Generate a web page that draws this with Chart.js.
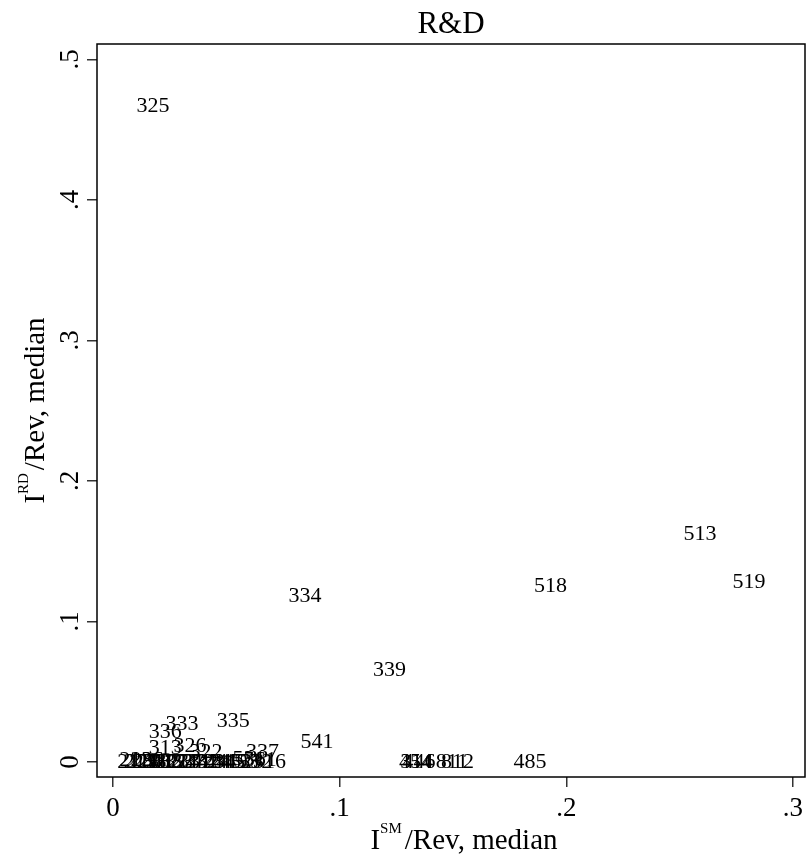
<!DOCTYPE html>
<html>
<head>
<meta charset="utf-8">
<title>R&amp;D</title>
<script src="https://cdn.jsdelivr.net/npm/chart.js@4.4.1/dist/chart.umd.min.js"></script>
<style>
  html, body { margin: 0; padding: 0; background: #fff; }
  #wrap { width: 811px; height: 856px; }
</style>
</head>
<body>
<div id="wrap"><canvas id="chartRD" width="811" height="856"></canvas></div>
<script>
// industry codes and their medians
const codes = [
    "325", "513", "519", "518", "334", "339", "541", "335", "333", "336",
    "326", "313", "322", "337", "485", "454", "314", "446", "811", "812",
    "316", "211", "212", "213", "221", "236", "237", "238", "311", "312",
    "315", "321", "323", "324", "327", "331", "332", "423", "424", "441",
    "445", "452", "493", "531", "532", "561"
];
const smRev = [
    0.0176, 0.259, 0.2806, 0.193, 0.0847, 0.122, 0.090, 0.053, 0.0304, 0.023,
    0.034, 0.023, 0.041, 0.066, 0.184, 0.1335, 0.1340, 0.1350, 0.1495, 0.1520,
    0.069, 0.009, 0.010, 0.012, 0.013, 0.015, 0.016, 0.018, 0.020, 0.022,
    0.024, 0.026, 0.028, 0.030, 0.033, 0.036, 0.039, 0.042, 0.045, 0.048,
    0.051, 0.054, 0.057, 0.060, 0.063, 0.065
];
const rdRev = [
    0.467, 0.162, 0.128, 0.125, 0.118, 0.0655, 0.0142, 0.029, 0.027, 0.021,
    0.011, 0.010, 0.007, 0.007, 0, 0, 0, 0, 0, 0,
    0, 0, 0.001, 0, 0, 0.001, 0, 0, 0, 0,
    0, 0, 0, 0, 0, 0, 0, 0, 0, 0,
    0, 0, 0, 0.002, 0, 0.001
];
const xTicks = [0, 0.1, 0.2, 0.3];
const yTicks = [0, 0.1, 0.2, 0.3, 0.4, 0.5];

const SERIF = "'Liberation Serif', 'DejaVu Serif', serif";

function fmtTick(v) {
    if (Math.abs(v) < 1e-9) return "0";
    return String(Math.round(v * 10) / 10).replace(/^0/, "");
}

// codes written at each point instead of markers
const pointLabels = {
    id: "pointLabels",
    afterDatasetsDraw(chart) {
        const ctx = chart.ctx;
        const meta = chart.getDatasetMeta(0);
        ctx.save();
        ctx.font = "22px " + SERIF;
        ctx.fillStyle = "#000";
        ctx.textAlign = "center";
        ctx.textBaseline = "middle";
        meta.data.forEach((pt, i) => {
            ctx.fillText(codes[i], pt.x, pt.y);
        });
        ctx.restore();
    }
};

// plot frame, title and axis titles with superscripts
const frameTitles = {
    id: "frameTitles",
    afterDraw(chart) {
        const ctx = chart.ctx;
        const a = chart.chartArea;
        ctx.save();
        ctx.strokeStyle = "#000";
        ctx.lineWidth = 1.5;
        ctx.strokeRect(a.left, a.top, a.right - a.left, a.bottom - a.top);

        ctx.fillStyle = "#000";
        ctx.textBaseline = "alphabetic";
        ctx.textAlign = "center";
        ctx.font = "31px " + SERIF;
        ctx.fillText("R&D", (a.left + a.right) / 2, 33);

        function axisTitle(sup, x, y, rot) {
            ctx.save();
            ctx.translate(x, y);
            ctx.rotate(rot);
            ctx.textAlign = "left";
            const big = "29px " + SERIF, small = "15px " + SERIF;
            ctx.font = big;
            const wI = ctx.measureText("I").width;
            const rest = "/Rev, median";
            const wR = ctx.measureText(rest).width;
            ctx.font = small;
            const wS = ctx.measureText(sup).width;
            const total = wI + wS + wR + 3;
            let cx = -total / 2;
            ctx.font = big;
            ctx.fillText("I", cx, 0);
            cx += wI;
            ctx.font = small;
            ctx.fillText(sup, cx, -16);
            cx += wS + 3;
            ctx.font = big;
            ctx.fillText(rest, cx, 0);
            ctx.restore();
        }
        axisTitle("SM", (a.left + a.right) / 2 + 13, 849, 0);
        axisTitle("RD", 44, (a.top + a.bottom) / 2, -Math.PI / 2);
        ctx.restore();
    }
};

const ctx = document.getElementById("chartRD").getContext("2d");
new Chart(ctx, {
    type: "scatter",
    data: {
        datasets: [{
            data: smRev.map((x, i) => ({ x: x, y: rdRev[i] })),
            pointRadius: 0,
            pointHoverRadius: 0
        }]
    },
    options: {
        responsive: false,
        animation: false,
        events: [],
        layout: { padding: { top: 44, right: 6, left: 0, bottom: 0 } },
        plugins: {
            legend: { display: false },
            title: { display: false },
            tooltip: { enabled: false }
        },
        scales: {
            x: {
                type: "linear",
                min: -0.00706,
                max: 0.3053,
                afterBuildTicks: scale => { scale.ticks = xTicks.map(v => ({ value: v })); },
                afterFit: scale => { scale.height = 79; },
                border: { display: false },
                grid: { drawOnChartArea: false, drawTicks: true, tickLength: 10, color: "#333", lineWidth: 1.5 },
                ticks: {
                    callback: v => fmtTick(v),
                    font: { family: SERIF, size: 27 },
                    color: "#000",
                    padding: 6,
                    maxRotation: 0
                }
            },
            y: {
                type: "linear",
                min: -0.0107,
                max: 0.511,
                afterBuildTicks: scale => { scale.ticks = yTicks.map(v => ({ value: v })); },
                afterFit: scale => { scale.width = 97; },
                border: { display: false },
                grid: { drawOnChartArea: false, drawTicks: true, tickLength: 10, color: "#333", lineWidth: 1.5 },
                ticks: {
                    callback: v => fmtTick(v),
                    font: { family: SERIF, size: 27 },
                    color: "#000",
                    padding: 6,
                    minRotation: 90,
                    maxRotation: 90,
                    crossAlign: "center"
                }
            }
        }
    },
    plugins: [pointLabels, frameTitles]
});
</script>
</body>
</html>
